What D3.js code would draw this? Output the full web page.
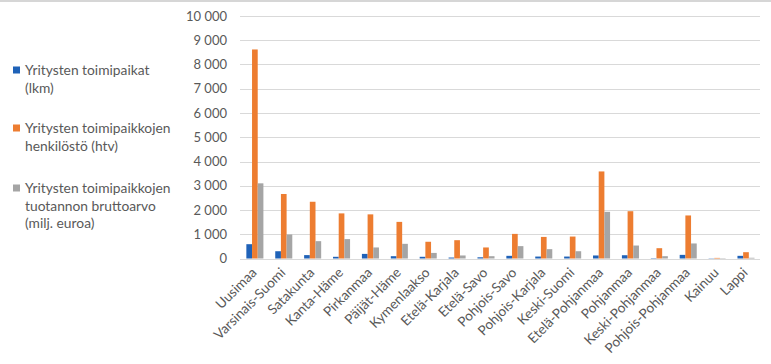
<!DOCTYPE html>
<html><head><meta charset="utf-8">
<script src="https://cdn.jsdelivr.net/npm/d3@7"></script>
<style>
html,body{margin:0;padding:0;background:#fff;}
svg{display:block;font-family:Lato, "Open Sans", sans-serif;}
</style></head>
<body><svg id="c" width="771" height="364"></svg>
<script>
const categories = ["Uusimaa","Varsinais-Suomi","Satakunta","Kanta-Häme","Pirkanmaa","Päijät-Häme","Kymenlaakso","Etelä-Karjala","Etelä-Savo","Pohjois-Savo","Pohjois-Karjala","Keski-Suomi","Etelä-Pohjanmaa","Pohjanmaa","Keski-Pohjanmaa","Pohjois-Pohjanmaa","Kainuu","Lappi"];
const seriesNames = ["Yritysten toimipaikat (lkm)","Yritysten toimipaikkojen henkilöstö (htv)","Yritysten toimipaikkojen tuotannon bruttoarvo (milj. euroa)"];
const toimipaikat = [590,300,140,70,190,95,70,40,50,110,80,80,125,135,15,150,10,110];
const henkilosto = [8620,2660,2340,1860,1820,1510,690,755,455,1015,890,905,3590,1950,425,1775,25,260];
const bruttoarvo = [3100,990,715,800,455,605,230,125,95,510,385,300,1925,535,95,620,15,30];
const yTicks = [0,1000,2000,3000,4000,5000,6000,7000,8000,9000,10000];
const legendLines = [["Yritysten toimipaikat","(lkm)"],["Yritysten toimipaikkojen","henkilöstö (htv)"],["Yritysten toimipaikkojen","tuotannon bruttoarvo","(milj. euroa)"]];
const colors = ["#1f62b8","#ED7D31","#A5A5A5"];

const svg = d3.select("#c");
svg.append("rect").attr("x",0).attr("y",0).attr("width",771).attr("height",2).attr("fill","#d6d6d6");

const x0 = d3.scaleBand().domain(categories).range([240,760]).padding(0);
const x1 = d3.scaleBand().domain([0,1,2]).range([x0.bandwidth()*0.22, x0.bandwidth()*0.81]).padding(0);
const y = d3.scaleLinear().domain([0,10000]).range([258.5,16]);
const loc = d3.formatLocale({decimal:",",thousands:"\u00a0",grouping:[3],currency:["",""]});
const fmt = loc.format(",");

// gridlines
svg.append("g").selectAll("line").data(yTicks).join("line")
  .attr("x1",240).attr("x2",760)
  .attr("y1",d=>Math.round(y(d))+0.5).attr("y2",d=>Math.round(y(d))+0.5)
  .attr("stroke","#d9d9d9").attr("stroke-width",1);

// y axis labels
const ya = svg.append("g").attr("transform","translate(227,0)")
  .call(d3.axisLeft(y).tickValues(yTicks).tickFormat(fmt).tickSize(0).tickPadding(0));
ya.select(".domain").remove();
ya.selectAll("text").attr("fill","#595959").style("font-size","13px").style("font-family","Lato, sans-serif");

// bars
const data = [toimipaikat,henkilosto,bruttoarvo];
const groups = svg.append("g").selectAll("g").data(categories).join("g")
  .attr("transform",d=>`translate(${x0(d)},0)`);
groups.selectAll("rect").data((d,i)=>data.map((s,k)=>({k,v:s[i]}))).join("rect")
  .attr("x",d=>x1(d.k)).attr("width",x1.bandwidth())
  .attr("y",d=>y(d.v)).attr("height",d=>y(0)-y(d.v))
  .attr("fill",d=>colors[d.k]);

// x labels
const xa = svg.append("g").attr("transform","translate(0,258.5)")
  .call(d3.axisBottom(x0).tickSize(0).tickPadding(0));
xa.select(".domain").remove();
xa.selectAll("text")
  .attr("fill","#595959").style("font-size","13.6px").style("font-family","Lato, sans-serif")
  .attr("text-anchor","end").attr("dy",0).attr("y",0)
  .attr("transform","translate(3,15) rotate(-45)");

// legend
const leg = svg.append("g");
let ly = [70,128,188];
legendLines.forEach((lines,i)=>{
  leg.append("rect").attr("x",13).attr("y",ly[i]-3.5).attr("width",7).attr("height",7).attr("fill",colors[i]);
  lines.forEach((t,j)=>{
    leg.append("text").attr("x",25).attr("y",ly[i]+j*17.7).attr("dy","0.35em")
      .attr("fill","#595959").style("font-size","13.8px").text(t);
  });
});
</script></body></html>
